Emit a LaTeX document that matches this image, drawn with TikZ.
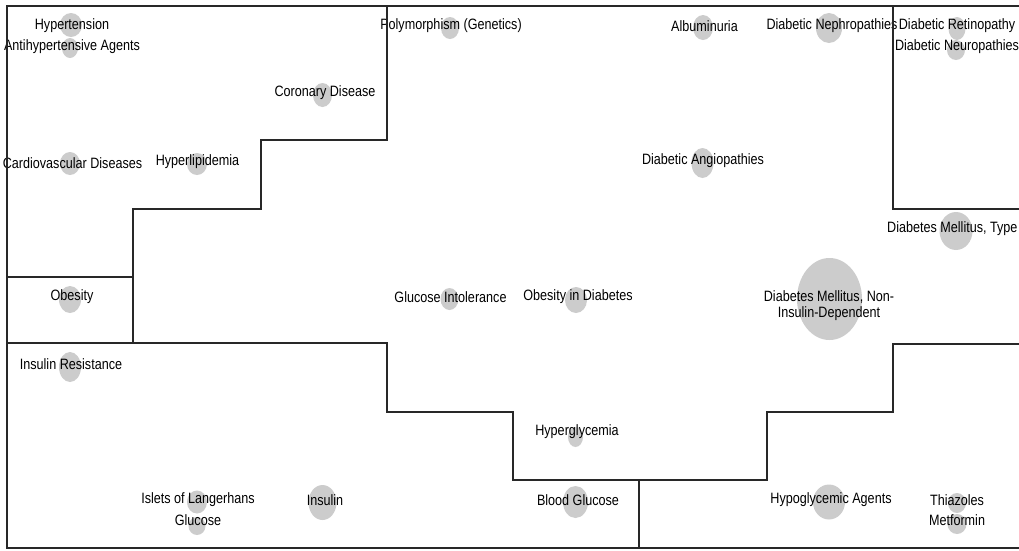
\documentclass[tikz,border=0pt]{standalone}
\usepackage{fontspec}
\setmainfont{Liberation Sans}[FakeStretch=0.84]
\usetikzlibrary{shapes.geometric}
\definecolor{bubblegray}{RGB}{204,204,204}
\definecolor{wallcol}{RGB}{40,40,40}
\tikzset{
  bubble/.style={ellipse, fill=bubblegray, draw=none, inner sep=0pt},
  lbl/.style={font=\fontsize{15}{16}\selectfont, inner sep=0pt, align=center, text=black},
  wall/.style={draw=wallcol, line width=1.3pt, line join=miter},
  frame/.style={draw=wallcol, line width=1.8pt}
}
% bubble of width and height (in px) at (x,y)
\newcommand{\bub}[5]{\node[bubble, minimum width=#4pt, minimum height=#5pt] (#1) at (#2,#3) {};}
\begin{document}
\begin{tikzpicture}[x=1pt, y=-1pt]
\useasboundingbox (0,0) rectangle (1019,550);
\fill[white] (0,0) rectangle (1019,550);

% bubbles (width, height)
\bub{bHyp}{71}{25}{22}{24}
\bub{bAnti}{70}{48}{16}{20}
\bub{bCor}{322.5}{95}{19}{24}
\bub{bCvd}{70}{163.5}{20}{23}
\bub{bLip}{197}{164}{20}{22}
\bub{bPoly}{450}{28}{18}{22}
\bub{bAlb}{703}{27.5}{20}{25}
\bub{bAngio}{702.5}{163}{22}{30}
\bub{bNeph}{829}{28}{26}{30}
\bub{bRet}{957}{28.5}{17}{23}
\bub{bNeuro}{956}{50}{18}{20}
\bub{bDm}{956}{231}{33}{38}
\bub{bObes}{70}{299.5}{22}{27}
\bub{bIr}{70}{367}{22}{30}
\bub{bIslets}{197}{502}{20}{23}
\bub{bGluc}{197}{526}{17}{18}
\bub{bIns}{322.5}{502.5}{28}{35}
\bub{bGi}{449.5}{299}{18}{22}
\bub{bOid}{576}{300}{22}{26}
\bub{bHyg}{575.5}{437}{15}{20}
\bub{bBg}{575.5}{502}{25}{32}
\bub{bNiddm}{829.5}{299}{65}{82}
\bub{bHga}{829}{502}{32}{35}
\bub{bThia}{957}{503}{18}{20}
\bub{bMet}{957}{524}{19}{20}

% labels
\node[lbl] (tHyp) at (72,26) {Hypertension};
\node[lbl] (tAnti) at (72,47) {Antihypertensive Agents};
\node[lbl] (tCor) at (325,93) {Coronary Disease};
\node[lbl] (tCvd) at (72.5,163) {Cardiovascular Diseases};
\node[lbl] (tLip) at (197.5,162) {Hyperlipidemia};
\node[lbl] (tPoly) at (451,26) {Polymorphism (Genetics)};
\node[lbl] (tAlb) at (704.5,26) {Albuminuria};
\node[lbl] (tAngio) at (703,161) {Diabetic Angiopathies};
\node[lbl] (tNeph) at (832,26) {Diabetic Nephropathies};
\node[lbl] (tRet) at (957,26) {Diabetic Retinopathy};
\node[lbl] (tNeuro) at (957,47) {Diabetic Neuropathies};
\node[lbl, anchor=west] (tDm) at (887,229) {Diabetes Mellitus, Type};
\node[lbl] (tObes) at (72,297) {Obesity};
\node[lbl] (tIr) at (71,364) {Insulin Resistance};
\node[lbl] (tIslets) at (198,500) {Islets of Langerhans};
\node[lbl] (tGluc) at (198,520) {Glucose};
\node[lbl] (tIns) at (325,500) {Insulin};
\node[lbl] (tGi) at (450.5,297) {Glucose Intolerance};
\node[lbl] (tOid) at (578,297) {Obesity in Diabetes};
\node[lbl] (tHyg) at (577,432) {Hyperglycemia};
\node[lbl] (tBg) at (578,500) {Blood Glucose};
\node[lbl] (tNiddm) at (829,306) {Diabetes Mellitus, Non-\\Insulin-Dependent};
\node[lbl] (tHga) at (831,500) {Hypoglycemic Agents};
\node[lbl] (tThia) at (957,500) {Thiazoles};
\node[lbl] (tMet) at (957,520) {Metformin};

% region boundaries
\draw[frame] (1020,6) -- (7,6) -- (7,548) -- (1020,548);
\draw[wall] (387,6) -- (387,140) -- (261,140) -- (261,209) -- (133,209) -- (133,343);
\draw[wall] (7,277) -- (133,277);
\draw[wall] (7,343) -- (387,343) -- (387,412) -- (513,412) -- (513,480)
  -- (767,480) -- (767,412) -- (893,412) -- (893,344) -- (1020,344);
\draw[wall] (639,480) -- (639,548);
\draw[wall] (893,6) -- (893,209) -- (1020,209);
\end{tikzpicture}
\end{document}
